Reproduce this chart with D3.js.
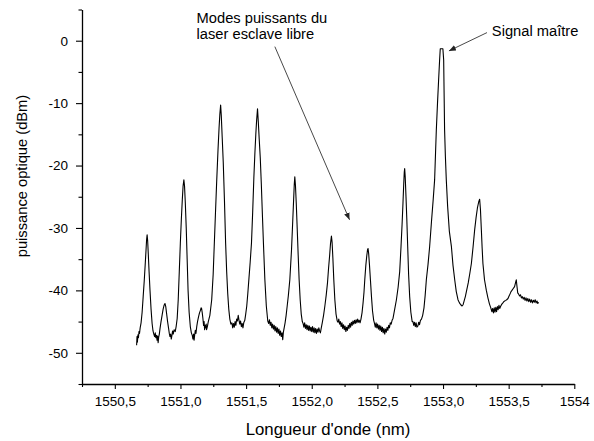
<!DOCTYPE html>
<html><head><meta charset="utf-8">
<script src="https://cdn.jsdelivr.net/npm/d3@7"></script>
<style>
body{margin:0;background:#fff}
svg text{font-family:"Liberation Sans",Arial,Helvetica,sans-serif;fill:#000}
</style>
</head><body>
<svg id="chart" width="594" height="441"></svg>
<script>
// ---- data ----
const xDomain = [1550.25, 1554];
const yDomain = [-55, 5];
const xMajorTicks = [1550.5, 1551, 1551.5, 1552, 1552.5, 1553, 1553.5, 1554];
const xTickLabels = ["1550,5", "1551,0", "1551,5", "1552,0", "1552,5", "1553,0", "1553,5", "1554"];
const xMinorTicks = [1550.25, 1550.75, 1551.25, 1551.75, 1552.25, 1552.75, 1553.25, 1553.75];
const yMajorTicks = [-50, -40, -30, -20, -10, 0];
const yTickLabels = ["-50", "-40", "-30", "-20", "-10", "0"];
const yMinorTicks = [-55, -45, -35, -25, -15, -5, 5];
const xTitle = "Longueur d'onde (nm)";
const yTitle = "puissance optique (dBm)";

// spectrum: [wavelength nm, power dBm]
const spectrum = [
[1550.666,-48.8],[1550.669,-47.4],[1550.672,-48.3],[1550.676,-47.1],[1550.680,-47.6],[1550.684,-46.6],[1550.688,-46.9],[1550.693,-46.0],[1550.700,-45.2],[1550.708,-43.5],[1550.716,-41.0],[1550.724,-38.5],[1550.731,-36.0],[1550.737,-33.8],[1550.742,-31.9],[1550.746,-31.1],[1550.750,-32.0],[1550.755,-34.2],[1550.761,-37.0],[1550.768,-40.0],[1550.776,-43.0],[1550.784,-45.3],[1550.791,-46.5],[1550.797,-47.0],
[1550.803,-47.4],[1550.808,-46.8],[1550.812,-47.6],[1550.817,-47.2],[1550.822,-48.0],[1550.826,-47.3],[1550.830,-48.4],[1550.834,-47.5],[1550.839,-47.0],[1550.845,-46.0],[1550.852,-45.0],[1550.860,-44.0],[1550.868,-43.0],[1550.875,-42.4],[1550.882,-42.1],[1550.888,-42.6],[1550.895,-43.8],[1550.902,-45.0],[1550.909,-46.0],[1550.915,-46.9],[1550.920,-47.4],[1550.925,-47.0],[1550.930,-47.8],[1550.935,-47.2],[1550.940,-46.5],
[1550.945,-47.0],[1550.952,-46.3],[1550.960,-46.6],[1550.967,-45.8],[1550.975,-44.5],[1550.983,-41.5],[1550.991,-37.0],[1550.999,-32.5],[1551.007,-28.5],[1551.014,-25.5],[1551.020,-23.3],[1551.026,-22.3],[1551.031,-23.3],[1551.037,-26.0],[1551.044,-30.0],[1551.051,-35.0],[1551.058,-40.0],[1551.066,-43.5],[1551.075,-45.8],[1551.083,-46.8],[1551.090,-47.2],[1551.095,-47.8],[1551.100,-47.0],[1551.104,-48.0],[1551.108,-47.2],[1551.113,-46.4],[1551.118,-46.9],[1551.124,-45.8],[1551.130,-45.0],[1551.138,-44.2],[1551.145,-43.6],[1551.152,-43.2],[1551.157,-42.8],[1551.161,-42.9],[1551.166,-43.6],[1551.171,-44.5],[1551.176,-45.6],[1551.180,-45.0],[1551.184,-46.3],[1551.188,-45.6],[1551.192,-46.0],[1551.196,-45.4],[1551.199,-46.3],
[1551.205,-45.8],[1551.212,-45.0],[1551.224,-44.0],[1551.238,-41.5],[1551.249,-37.5],[1551.257,-33.0],[1551.266,-28.0],[1551.276,-22.5],[1551.286,-17.5],[1551.294,-14.0],[1551.300,-11.8],[1551.306,-10.3],[1551.311,-12.0],[1551.318,-15.5],[1551.326,-19.5],[1551.335,-25.5],[1551.344,-32.4],[1551.352,-37.0],[1551.360,-40.5],[1551.368,-43.0],[1551.376,-44.6],[1551.384,-45.4],
[1551.392,-45.2],[1551.398,-46.0],[1551.404,-45.3],[1551.410,-45.9],[1551.416,-45.0],[1551.422,-45.6],[1551.428,-44.6],[1551.434,-44.9],[1551.440,-44.0],[1551.446,-44.8],[1551.452,-45.4],[1551.458,-44.9],[1551.464,-45.8],[1551.470,-45.3],[1551.476,-46.0],[1551.482,-45.2],[1551.490,-44.8],[1551.497,-43.8],[1551.505,-42.5],[1551.513,-40.5],[1551.522,-38.0],[1551.531,-35.5],[1551.541,-32.4],[1551.550,-27.5],[1551.559,-22.0],[1551.567,-18.0],[1551.574,-15.0],[1551.580,-12.8],[1551.587,-10.9],
[1551.593,-13.0],[1551.600,-15.8],[1551.608,-18.8],[1551.616,-23.0],[1551.624,-27.8],[1551.632,-32.4],[1551.643,-38.3],[1551.654,-42.5],[1551.665,-44.9],
[1551.672,-45.3],[1551.678,-44.7],[1551.684,-45.6],[1551.690,-45.1],[1551.696,-46.0],[1551.702,-45.4],[1551.708,-46.2],[1551.714,-45.6],[1551.720,-46.5],[1551.726,-45.8],[1551.732,-46.7],[1551.738,-46.0],[1551.744,-46.9],[1551.750,-46.2],[1551.756,-47.2],[1551.762,-46.5],[1551.768,-47.4],[1551.774,-46.8],[1551.779,-47.9],[1551.784,-46.7],[1551.790,-46.0],[1551.797,-45.2],[1551.805,-44.0],[1551.813,-42.5],[1551.822,-40.8],[1551.833,-38.3],[1551.846,-33.5],[1551.855,-29.0],[1551.862,-25.5],[1551.867,-23.0],[1551.871,-21.8],
[1551.876,-23.2],[1551.882,-26.0],[1551.890,-30.5],[1551.897,-34.5],[1551.904,-38.3],[1551.912,-41.5],[1551.920,-43.8],[1551.928,-45.0],
[1551.934,-45.3],[1551.940,-45.9],[1551.946,-45.2],[1551.952,-46.1],[1551.958,-45.5],[1551.964,-46.3],[1551.970,-45.6],[1551.976,-46.4],[1551.982,-45.7],[1551.988,-46.5],[1551.994,-45.9],[1552.000,-46.6],[1552.006,-45.8],[1552.012,-46.7],[1552.018,-46.0],[1552.024,-46.8],[1552.030,-46.1],[1552.036,-46.9],[1552.042,-46.2],[1552.048,-46.7],[1552.054,-46.0],[1552.060,-46.5],[1552.066,-46.8],[1552.072,-46.1],[1552.080,-45.2],[1552.090,-44.0],[1552.100,-42.5],[1552.110,-40.8],[1552.120,-38.8],[1552.128,-36.5],[1552.136,-34.5],[1552.143,-32.5],[1552.150,-31.3],
[1552.155,-32.3],[1552.161,-34.8],[1552.168,-38.3],[1552.176,-41.5],[1552.185,-43.8],[1552.194,-44.9],
[1552.200,-45.1],[1552.206,-44.6],[1552.212,-45.4],[1552.218,-45.0],[1552.224,-45.8],[1552.230,-45.2],[1552.236,-46.1],[1552.242,-45.5],[1552.248,-46.3],[1552.254,-45.7],[1552.260,-46.6],[1552.266,-45.9],[1552.272,-46.4],[1552.278,-45.6],[1552.284,-46.1],[1552.290,-45.3],[1552.296,-45.9],[1552.302,-45.1],[1552.308,-45.6],[1552.314,-44.9],[1552.320,-45.4],[1552.326,-44.8],[1552.332,-45.3],[1552.338,-44.7],[1552.344,-45.2],[1552.350,-44.6],[1552.356,-45.1],[1552.362,-44.8],[1552.368,-45.2],[1552.375,-44.6],[1552.383,-43.6],[1552.391,-42.0],[1552.398,-40.3],[1552.404,-38.3],[1552.412,-36.0],[1552.419,-34.5],[1552.425,-33.5],[1552.429,-33.3],
[1552.434,-34.2],[1552.440,-36.0],[1552.447,-38.3],[1552.455,-41.0],[1552.463,-43.3],[1552.472,-44.8],
[1552.478,-45.3],[1552.484,-45.9],[1552.490,-45.2],[1552.496,-46.0],[1552.502,-45.4],[1552.508,-46.2],[1552.514,-45.6],[1552.520,-46.4],[1552.526,-45.7],[1552.532,-46.6],[1552.538,-45.9],[1552.544,-46.8],[1552.550,-46.1],[1552.556,-47.0],[1552.562,-46.2],[1552.568,-46.7],[1552.574,-45.9],[1552.580,-46.4],[1552.586,-45.6],[1552.592,-46.0],[1552.598,-45.2],[1552.605,-45.4],[1552.612,-44.8],[1552.619,-44.5],[1552.632,-43.0],[1552.645,-41.5],[1552.658,-39.5],[1552.670,-37.0],[1552.680,-33.0],[1552.688,-29.5],[1552.695,-26.0],[1552.701,-22.8],[1552.705,-21.0],[1552.708,-20.5],
[1552.712,-21.8],[1552.718,-25.0],[1552.724,-28.5],[1552.731,-33.0],[1552.738,-37.5],[1552.746,-41.0],[1552.755,-43.5],[1552.765,-45.0],
[1552.771,-45.0],[1552.777,-45.6],[1552.783,-45.1],[1552.789,-45.8],[1552.795,-45.2],[1552.801,-45.9],[1552.809,-45.7],[1552.815,-45.1],[1552.821,-45.5],[1552.828,-44.8],[1552.836,-44.6],[1552.845,-44.0],[1552.855,-42.8],[1552.864,-40.8],[1552.873,-38.3],[1552.886,-35.8],[1552.898,-33.0],[1552.912,-29.0],[1552.925,-25.5],[1552.936,-22.3],[1552.943,-18.0],[1552.949,-14.3],[1552.958,-10.0],[1552.966,-6.5],[1552.974,-3.1],[1552.979,-1.3],[1552.999,-1.3],
[1553.005,-3.1],[1553.008,-8.0],[1553.012,-14.3],[1553.018,-18.5],[1553.025,-22.3],[1553.035,-26.5],[1553.048,-30.5],[1553.064,-33.0],[1553.076,-36.0],[1553.089,-38.3],[1553.101,-40.2],[1553.114,-41.5],[1553.125,-42.0],[1553.135,-42.3],[1553.145,-42.5],[1553.153,-42.3],[1553.162,-41.6],
[1553.170,-41.0],[1553.180,-40.0],[1553.192,-38.8],[1553.204,-37.3],[1553.216,-35.7],[1553.229,-33.0],[1553.241,-30.3],[1553.252,-28.3],[1553.262,-26.8],[1553.272,-25.8],[1553.279,-25.4],
[1553.285,-27.0],[1553.292,-30.3],[1553.298,-33.2],[1553.304,-35.7],[1553.316,-38.3],[1553.330,-40.0],[1553.342,-41.2],[1553.354,-42.2],[1553.364,-42.8],[1553.372,-43.4],[1553.378,-42.9],[1553.384,-43.6],[1553.390,-42.8],[1553.396,-43.5],[1553.402,-42.7],[1553.408,-43.4],[1553.414,-42.6],[1553.420,-43.1],[1553.426,-42.4],[1553.432,-42.9],[1553.440,-42.5],[1553.448,-42.2],[1553.456,-42.0],[1553.463,-41.8],[1553.470,-41.7],[1553.478,-41.6],[1553.485,-41.5],[1553.495,-41.3],[1553.503,-40.9],[1553.510,-40.6],[1553.518,-40.2],[1553.525,-40.0],[1553.535,-39.7],[1553.545,-39.4],[1553.552,-38.8],[1553.558,-38.3],
[1553.563,-39.3],[1553.569,-40.4],[1553.576,-40.6],[1553.583,-40.9],[1553.590,-40.7],[1553.597,-41.2],[1553.604,-41.0],[1553.611,-41.4],[1553.618,-41.1],[1553.625,-41.6],[1553.632,-41.2],[1553.639,-41.7],[1553.646,-41.3],[1553.653,-41.8],[1553.660,-41.4],[1553.667,-41.9],[1553.674,-41.5],[1553.681,-42.0],[1553.688,-41.6],[1553.695,-41.9],[1553.702,-41.5],[1553.709,-42.0],[1553.716,-41.7],[1553.722,-42.1],[1553.728,-41.9]
];

// annotations (in data units)
const annotationLines = [["Modes puissants du", "laser esclave libre"], ["Signal maître"]];
const annotationTextAt = [[1551.123, 2.9], [1553.372, 0.77]];
const annotationArrowFrom = [[1551.719, -0.95], [1553.335, 1.3]];
const annotationArrowTo = [[1552.288, -28.7], [1553.045, -1.63]];

// ---- drawing ----
const svg = d3.select("#chart");
const x = d3.scaleLinear().domain(xDomain).range([82, 574.3]);
const y = d3.scaleLinear().domain(yDomain).range([384, 9.5]);
const font = '"Liberation Sans",Arial,Helvetica,sans-serif';

// minor ticks
svg.append("g").attr("transform", "translate(0,384)")
  .call(d3.axisBottom(x).tickValues(xMinorTicks).tickSize(3).tickFormat(""))
  .call(g => g.select(".domain").remove());
svg.append("g").attr("transform", "translate(82,0)")
  .call(d3.axisLeft(y).tickValues(yMinorTicks).tickSize(3.5).tickFormat(""))
  .call(g => g.select(".domain").remove());

// major axes
const xAxis = svg.append("g").attr("transform", "translate(0,384)")
  .call(d3.axisBottom(x).tickValues(xMajorTicks).tickSize(5).tickSizeOuter(0).tickPadding(7)
    .tickFormat((d, i) => xTickLabels[i]));
const yAxis = svg.append("g").attr("transform", "translate(82,0)")
  .call(d3.axisLeft(y).tickValues(yMajorTicks).tickSize(6).tickSizeOuter(0).tickPadding(8)
    .tickFormat((d, i) => yTickLabels[i]));
svg.selectAll(".tick text").attr("font-family", font).attr("font-size", 13.5).attr("fill", "#000");
svg.selectAll(".tick line").attr("stroke", "#000").attr("stroke-width", 1.1);
svg.selectAll(".domain").attr("stroke", "#000").attr("stroke-width", 1.3);

// axis titles
svg.append("text").attr("x", 328).attr("y", 435).attr("text-anchor", "middle")
  .attr("font-size", 16.8).text(xTitle);
svg.append("text").attr("transform", "translate(27,176) rotate(-90)").attr("text-anchor", "middle")
  .attr("font-size", 14.7).text(yTitle);

// spectrum trace
const line = d3.line().x(d => x(d[0])).y(d => y(d[1]));
svg.append("path").datum(spectrum).attr("d", line)
  .attr("fill", "none").attr("stroke", "#000").attr("stroke-width", 1.1).attr("stroke-linejoin", "round");

// arrows
svg.append("defs").append("marker").attr("id", "arr")
  .attr("viewBox", "0 0 10 10").attr("refX", 10).attr("refY", 5)
  .attr("markerWidth", 7).attr("markerHeight", 7).attr("markerUnits", "userSpaceOnUse")
  .attr("orient", "auto")
  .append("path").attr("d", "M0,1 L10,5 L0,9 Z").attr("fill", "#222");

annotationLines.forEach((lines, i) => {
  const t = svg.append("text").attr("x", x(annotationTextAt[i][0])).attr("y", y(annotationTextAt[i][1]))
    .attr("font-size", 14.7);
  lines.forEach((s, j) => t.append("tspan").attr("x", x(annotationTextAt[i][0])).attr("dy", j === 0 ? 0 : 16.7).text(s));
  svg.append("line")
    .attr("x1", x(annotationArrowFrom[i][0])).attr("y1", y(annotationArrowFrom[i][1]))
    .attr("x2", x(annotationArrowTo[i][0])).attr("y2", y(annotationArrowTo[i][1]))
    .attr("stroke", "#333").attr("stroke-width", 0.9).attr("marker-end", "url(#arr)");
});
</script>
</body></html>
